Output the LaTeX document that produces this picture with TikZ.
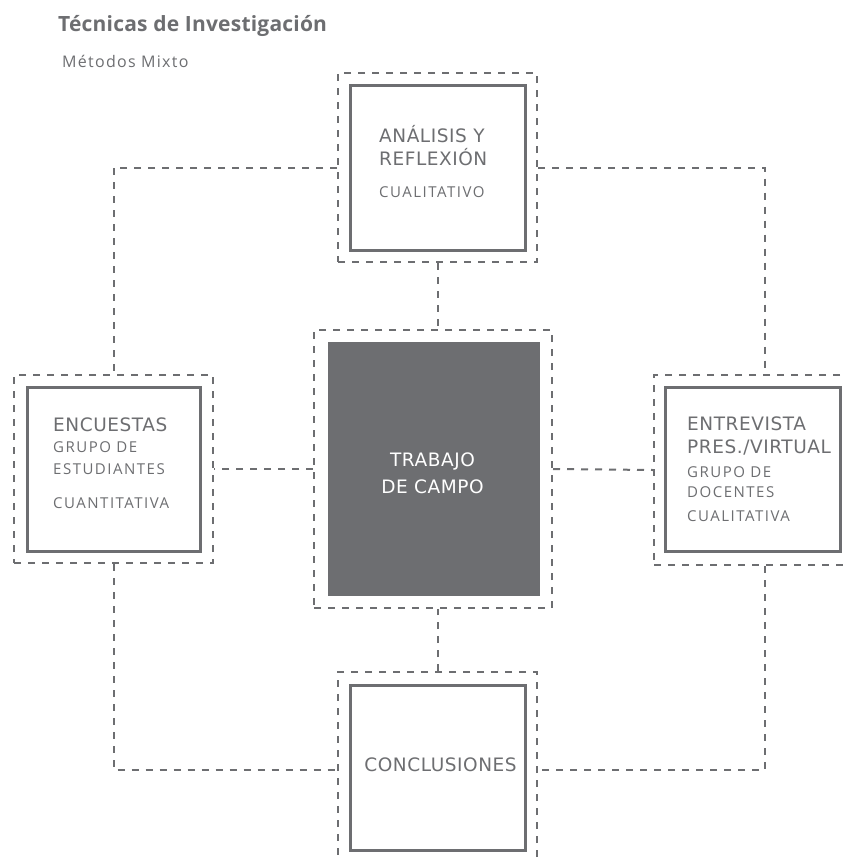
\documentclass[tikz,border=0pt]{standalone}
\usepackage{fontspec}
\setmainfont{Open Sans}
\newfontfamily\headfont{DejaVu Sans}[LetterSpace=3]
\newfontfamily\titlefont{Open Sans}[LetterSpace=1]
\newfontfamily\subfont{Open Sans}[LetterSpace=10]
\newfontfamily\metfont{Open Sans}[LetterSpace=8]
\usetikzlibrary{positioning}
\definecolor{fgray}{RGB}{109,110,113}
\tikzstyle{outer}=[draw=fgray,line width=2pt,dash pattern=on 7pt off 7pt,
  inner sep=0pt,minimum width=199pt,minimum height=189pt]
\tikzstyle{inner}=[draw=fgray,line width=3pt,fill=white,
  inner sep=0pt,minimum width=175pt,minimum height=165pt]
\tikzstyle{link}=[draw=fgray,line width=2pt,dash pattern=on 7pt off 7pt]
\tikzstyle{head}=[text=fgray,anchor=base west,inner sep=0pt,
  font=\headfont\fontsize{18.5}{20}\selectfont]
\tikzstyle{sub}=[text=fgray,anchor=base west,inner sep=0pt,
  font=\subfont\fontsize{15}{17}\selectfont]
\begin{document}
\begin{tikzpicture}[x=1pt,y=-1pt]
  \useasboundingbox (0,0) rectangle (844,862);
  \clip (0,0) rectangle (844,862);
  % titles
  \node [text=fgray,anchor=base west,inner sep=0pt,font=\titlefont\bfseries\fontsize{21}{24}\selectfont] (tit) at (58,31.5) {Técnicas de Investigación};
  \node [text=fgray,anchor=base west,inner sep=0pt,font=\metfont\fontsize{16}{18}\selectfont] (met) at (62,67) {Métodos Mixto};
  % frames
  \node [style=outer] (ana) at (437.5,167.5) {};
  \node [style=outer,minimum width=199pt,minimum height=188pt] (enc) at (113.5,469) {};
  \node [style=outer,minimum width=238pt,minimum height=278pt] (cam) at (433,469) {};
  \node [style=outer,minimum width=222pt,minimum height=190pt] (ent) at (765,470) {};
  \node [style=outer,minimum height=196pt] (con) at (437.5,770) {};
  % connectors
  \draw [style=link] (ana.west) -| (enc.north);
  \draw [style=link] (ana.east) -| (ent.north);
  \draw [style=link] (ana.south) -- (ana.south |- cam.north);
  \draw [style=link] (cam.west) -- (enc.east);
  \draw [style=link] (cam.east) -- (ent.west);
  \draw [style=link] (con.north) -- (con.north |- cam.south);
  \draw [style=link] (enc.south) |- (con.west);
  \draw [style=link] (ent.south) |- (con.east);
  % boxes
  \node [style=inner] (anaIn) at (ana) {};
  \node [style=inner,minimum width=173pt,minimum height=164pt] (encIn) at (113.5,469) {};
  \node [style=inner,draw=none,fill=fgray,minimum width=212pt,minimum height=254pt] (camIn) at (434,469) {};
  \node [style=inner,minimum width=175pt,minimum height=164pt] (entIn) at (752.5,469) {};
  \node [style=inner] (conIn) at (437.5,767.5) {};
  % texts
  \node [style=head] (a1) at (379,142) {ANÁLISIS Y};
  \node [style=head] (a2) at (379,165) {REFLEXIÓN};
  \node [style=sub] (a3) at (379,197) {CUALITATIVO};
  \node [style=head] (e1) at (53,431) {ENCUESTAS};
  \node [style=sub] (e2) at (53,452) {GRUPO DE};
  \node [style=sub] (e3) at (53,474) {ESTUDIANTES};
  \node [style=sub] (e4) at (53,508) {CUANTITATIVA};
  \node [style=head,text=white,anchor=base] (c1) at (432.5,466) {TRABAJO};
  \node [style=head,text=white,anchor=base] (c2) at (432.5,493) {DE CAMPO};
  \node [style=head] (t1) at (687,430) {ENTREVISTA};
  \node [style=head] (t2) at (687,453) {PRES./VIRTUAL};
  \node [style=sub] (t3) at (687,477) {GRUPO DE};
  \node [style=sub] (t4) at (687,497) {DOCENTES};
  \node [style=sub] (t5) at (687,521) {CUALITATIVA};
  \node [style=head,anchor=base] (k1) at (440.5,771) {CONCLUSIONES};
\end{tikzpicture}
\end{document}
